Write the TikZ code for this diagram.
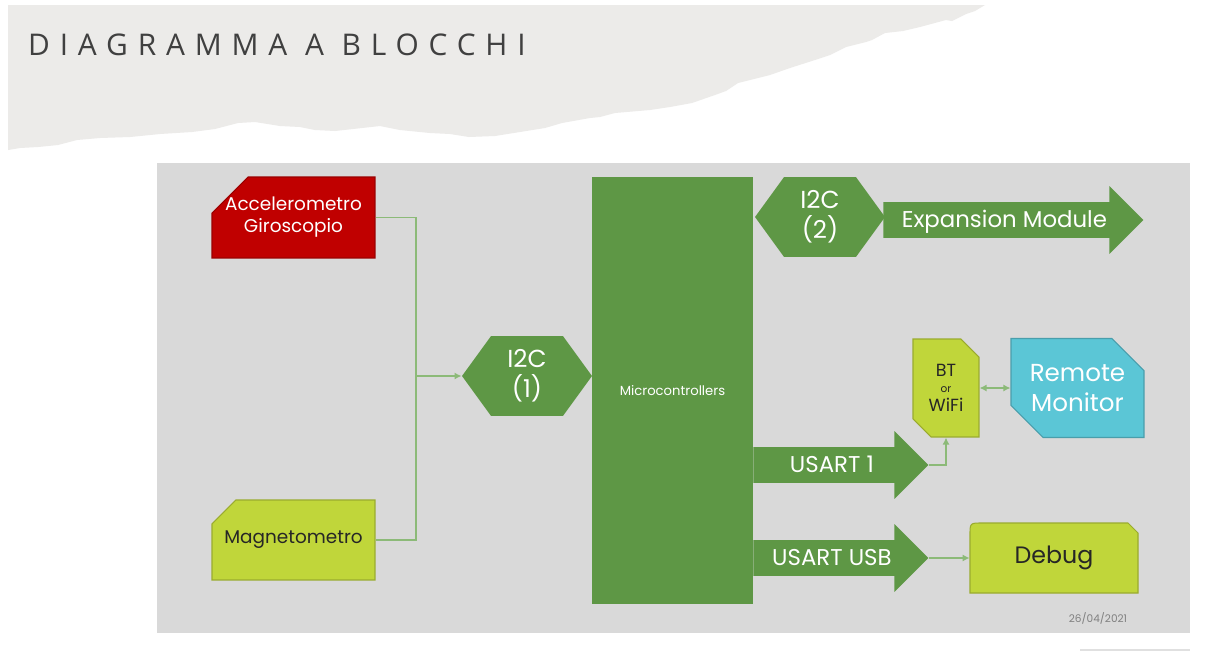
\documentclass[tikz,border=0pt]{standalone}
\usepackage{fontspec}
\setmainfont{Poppins}
\newfontfamily\titlefont[LetterSpace=33]{Open Sans}
\usetikzlibrary{shapes.misc,shapes.symbols,shapes.arrows,arrows.meta}

\definecolor{boxgreen}{RGB}{94,151,69}
\definecolor{boxlime}{RGB}{192,214,58}
\definecolor{boxred}{RGB}{192,0,0}
\definecolor{boxcyan}{RGB}{91,198,214}
\definecolor{panelgrey}{RGB}{217,217,217}
\definecolor{papergrey}{RGB}{236,235,233}
\definecolor{wiregreen}{RGB}{140,186,120}

\tikzset{
    block/.style={chamfered rectangle, draw=#1!80!black, fill=#1, line width=0.6pt, inner sep=0pt, align=center},
    hexa/.style={signal, signal to=west and east, signal pointer angle=108, fill=boxgreen, text=white,
                 minimum width=2.6cm, minimum height=1.6cm, inner sep=0pt, align=center,
                 font=\fontsize{14}{17}\selectfont},
    bus/.style={single arrow, fill=boxgreen, text=white, single arrow head extend=0.32cm,
                text height=0.46cm, text depth=0.16cm, inner xsep=0pt, inner ysep=0.04cm,
                anchor=tail, font=\fontsize{13}{16}\selectfont},
    wire/.style={draw=wiregreen, line width=0.8pt},
    wirearrow/.style={wire, -{Latex[length=4pt,width=4pt]}}
}

\begin{document}
\begin{tikzpicture}[x=0.02cm, y=-0.02cm]

    %\draw [help lines] (0,0) grid (1205,653);
    \useasboundingbox (0,0) rectangle (1205,653);
    \fill[white] (0,0) rectangle (1205,653);

    % torn paper header
    \fill[papergrey] (8,5) -- (985,5) -- (975,11) -- (966,14) -- (952,21) -- (946,20) -- (920,27) -- (903,31)
        -- (885,33) -- (872,40) -- (866,42) -- (846,47) -- (830,55) -- (815,60) -- (790,68) -- (770,75)
        -- (738,83) -- (726,91) -- (715,95) -- (692,103) -- (670,107) -- (650,110) -- (615,113) -- (600,117)
        -- (590,118) -- (562,123) -- (545,128) -- (520,132) -- (495,136) -- (469,137) -- (450,134)
        -- (430,133) -- (400,130) -- (380,126) -- (362,128) -- (335,131) -- (315,130) -- (300,127)
        -- (280,126) -- (255,122) -- (238,123) -- (215,129) -- (192,132) -- (160,134) -- (130,137)
        -- (100,138) -- (77,140) -- (58,145) -- (38,147) -- (20,148) -- (8,150) -- cycle;
    \node (title) [anchor=west, text=black!75, font=\titlefont\fontsize{17}{20}\selectfont] at (22,45) {DIAGRAMMA A BLOCCHI};

    % panel
    \fill[panelgrey] (157,163) rectangle (1190,633);
    \draw[black!12, line width=0.8pt] (1080,650) -- (1190,650);

    \path   (293.5,217.5) node (acc) [block=boxred, text=white, minimum width=3.26cm, minimum height=1.62cm,
                chamfered rectangle corners=north west, chamfered rectangle xsep=0.66cm, chamfered rectangle ysep=0.32cm,
                font=\fontsize{10.5}{12.5}\selectfont] {\makebox[2cm]{Accelerometro}\\Giroscopio}
            (293.5,540) node (mag) [block=boxlime, text=black!85, minimum width=3.26cm, minimum height=1.6cm,
                chamfered rectangle corners=north west, chamfered rectangle xsep=0.66cm, chamfered rectangle ysep=0.3cm,
                font=\fontsize{10.5}{12.5}\selectfont] {\makebox[2cm]{Magnetometro}}
            (527,376) node (i2ca) [hexa] {I2C\\(1)}
            (672.5,390.5) node (mc) [rectangle, fill=boxgreen, text=white, minimum width=3.22cm, minimum height=8.54cm,
                font=\fontsize{7.5}{9}\selectfont] {Microcontrollers}
            (820,217) node (i2cb) [hexa] {I2C\\(2)}
            (883,220) node (exp) [bus, minimum height=5.2cm] {Expansion Module}
            (753,465) node (ua) [bus, minimum height=3.5cm] {USART 1}
            (753,558) node (ub) [bus, minimum height=3.5cm] {USART USB}
            (946,388) node (bt) [block=boxlime, text=black!85, minimum width=1.32cm, minimum height=1.96cm,
                chamfered rectangle corners={north east,south west}, chamfered rectangle xsep=0.18cm, chamfered rectangle ysep=0.18cm,
                font=\fontsize{10}{11}\selectfont] {BT\\[-2pt]{\fontsize{6}{7}\selectfont or}\\WiFi}
            (1077.5,388) node (rm) [block=boxcyan, text=white, minimum width=2.66cm, minimum height=1.98cm,
                chamfered rectangle corners={north east,south west}, chamfered rectangle xsep=0.32cm, chamfered rectangle ysep=0.32cm,
                font=\fontsize{14}{17}\selectfont] {Remote\\Monitor};

    % debug box: rounded top left, cut top right
    \filldraw[fill=boxlime, draw=boxlime!80!black, line width=0.6pt] (970,593) -- (970,535)
        .. controls (970,523) .. (982,523) -- (1128,523) -- (1138,533) -- (1138,593) -- cycle;
    \node (debug) [minimum width=3.36cm, minimum height=1.4cm, text=black!85, font=\fontsize{13.5}{16}\selectfont] at (1054,558) {Debug};

    \node (date) [text=black!50, font=\fontsize{6}{7}\selectfont] at (1098,618) {26/04/2021};

    % connections
    \coordinate (jn) at (416,376);
    \draw[wire] (acc.east) -| (jn);
    \draw[wire] (mag.east) -| (jn);
    \draw[wirearrow] (jn) -- (i2ca.west);
    \draw[wirearrow] (ua.tip) -| (bt.south);
    \draw[wire, {Latex[length=4pt,width=4pt]}-{Latex[length=4pt,width=4pt]}] (bt.east) -- (rm.west);
    \draw[wirearrow] (ub.tip) -- (debug.west);

\end{tikzpicture}
\end{document}
